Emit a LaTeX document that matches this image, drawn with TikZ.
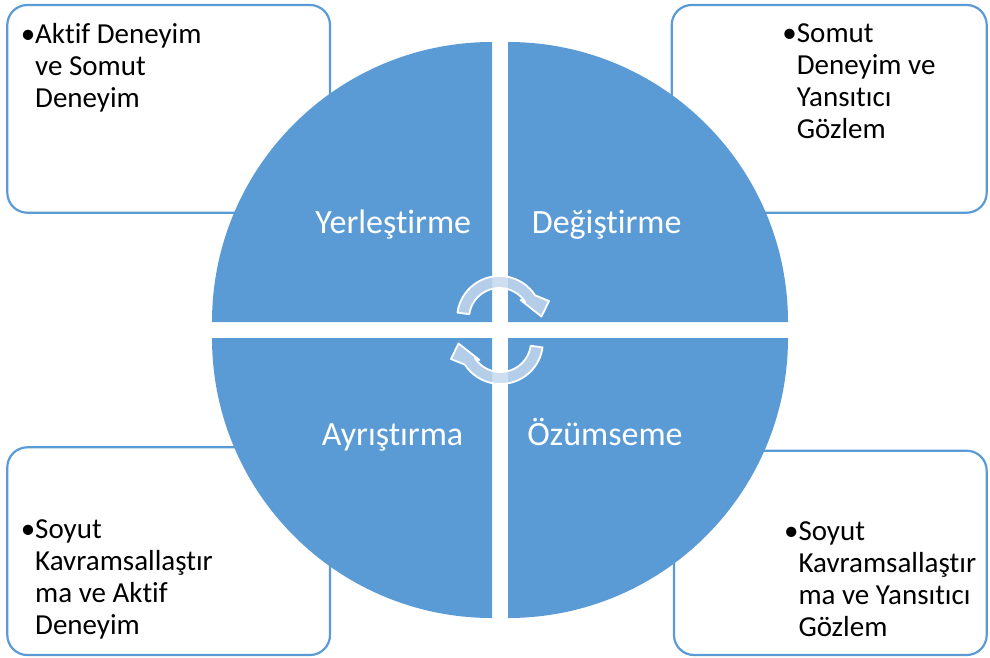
\documentclass[tikz,border=0pt]{standalone}
\usepackage{fontspec}
\setmainfont{Carlito}[Ligatures={NoCommon}]
\definecolor{accent}{RGB}{91,155,213}
\definecolor{arrowfill}{RGB}{196,216,238}
\begin{document}
\begin{tikzpicture}[x=1pt,y=-1pt,
  infobox/.style={draw=accent, line width=2.2pt, fill=white, rounded corners=20pt, inner sep=0pt},
  quad/.style={fill=accent},
  qlabel/.style={text=white, font=\fontsize{34pt}{40pt}\selectfont, inner sep=0pt, anchor=base},
  btext/.style={text=black, font=\fontsize{29pt}{32pt}\selectfont, align=left, inner sep=0pt, anchor=north west},
  cyc/.style={fill=arrowfill, fill opacity=0.85, draw=white, line width=1.8pt, line join=round}]
\useasboundingbox (0,0) rectangle (990,657);
% corner boxes
\node[infobox, minimum width=322.7pt, minimum height=207.7pt] (tlbox) at (168.65,108.85) {};
\node[infobox, minimum width=315pt, minimum height=207.7pt] (trbox) at (829.2,108.85) {};
\node[infobox, minimum width=322.7pt, minimum height=207.7pt] (blbox) at (168.65,551.15) {};
\node[infobox, minimum width=312.7pt, minimum height=204.3pt] (brbox) at (830.35,552.85) {};
% quadrants
\fill[quad] (492,322) -- (212,322) arc[start angle=180, end angle=270, radius=280] -- cycle;
\fill[quad] (508,322) -- (508,42) arc[start angle=270, end angle=360, radius=280] -- cycle;
\fill[quad] (492,338) -- (492,618) arc[start angle=90, end angle=180, radius=280] -- cycle;
\fill[quad] (508,338) -- (788,338) arc[start angle=0, end angle=90, radius=280] -- cycle;
% quadrant labels
\node[qlabel] (yer) at (393.3,233.3) {Yerleştirme};
\node[qlabel] (deg) at (606.7,233.3) {Değiştirme};
\node[qlabel] (ayr) at (392.5,445) {Ayrıştırma};
\node[qlabel] (ozu) at (605,445) {Özümseme};
% box texts
\node[btext] (tltext) at (35,19.3) {\rule{0pt}{24pt}\llap{•}Aktif Deneyim\\ve Somut\\Deneyim};
\node[btext] (trtext) at (796.7,18.7) {\rule{0pt}{24pt}\llap{•}Somut\\Deneyim ve\\Yansıtıcı\\Gözlem};
\node[btext] (bltext) at (35,514.3) {\rule{0pt}{24pt}\llap{•}Soyut\\Kavramsallaştır\\ma ve Aktif\\Deneyim};
\node[btext] (brtext) at (798.3,516) {\rule{0pt}{24pt}\llap{•}Soyut\\Kavramsallaştır\\ma ve Yansıtıcı\\Gözlem};
% cycle arrows
\path[cyc] ([shift={(499.5,318.5)}] -172:42.5) arc[start angle=-172, end angle=-33, radius=42.5]
  -- (549,301) -- (541.5,316.5) -- (520.5,300)
  -- ([shift={(499.5,318.5)}] -33:30.5) arc[start angle=-33, end angle=-172, radius=30.5] -- cycle;
\path[cyc] ([shift={(500.5,341.5)}] 8:42.5) arc[start angle=8, end angle=147, radius=42.5]
  -- (451,359) -- (458.5,343.5) -- (479.5,360)
  -- ([shift={(500.5,341.5)}] 147:30.5) arc[start angle=147, end angle=8, radius=30.5] -- cycle;
\end{tikzpicture}
\end{document}
